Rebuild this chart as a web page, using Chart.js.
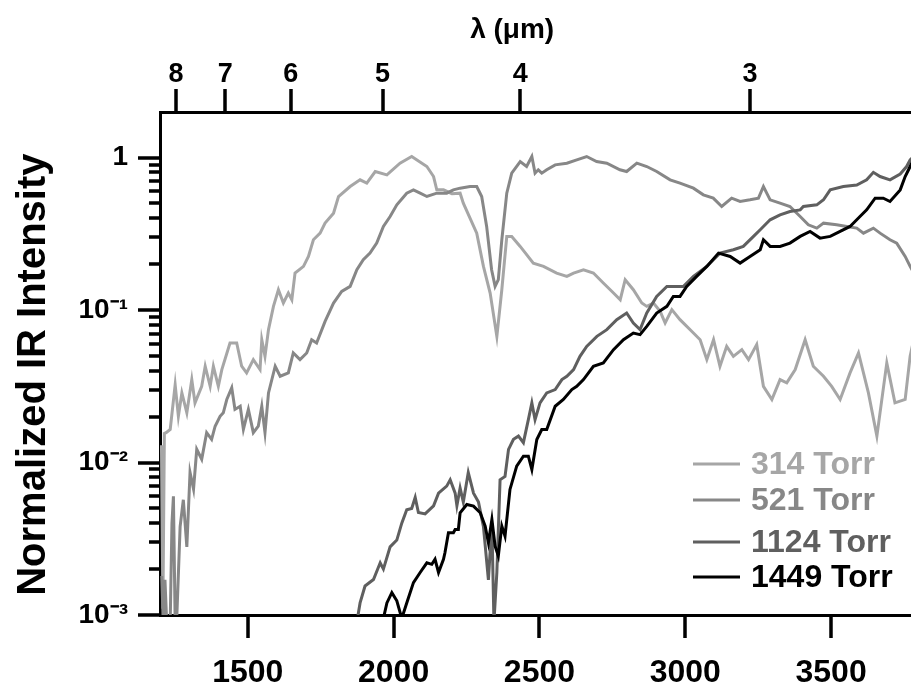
<!DOCTYPE html>
<html><head><meta charset="utf-8">
<script src="https://cdn.jsdelivr.net/npm/chart.js@4.4.1/dist/chart.umd.min.js"></script>
<style>html,body{margin:0;padding:0;background:#fff;overflow:hidden}#wrap{width:911px;height:688px;position:relative}</style>
</head><body><div id="wrap"><canvas id="c" width="911" height="688"></canvas></div>
<script>
// ---- data (wavenumber in cm^-1, normalized intensity) ----
const seriesLabels = ['314 Torr', '521 Torr', '1124 Torr', '1449 Torr'];
const seriesColors = ['#a6a6a6', '#878787', '#5f5f5f', '#000000'];

const wn314 = [1204,1209,1214,1220,1234,1251,1262,1274,1291,1308,1319,1342,1354,1371,1382,1399,1411,1439,1462,1479,1496,1519,1542,1548,1559,1571,1588,1605,1622,1639,1651,1662,1691,1708,1725,1748,1765,1794,1811,1851,1885,1908,1937,1977,2022,2062,2114,2137,2148,2171,2200,2228,2239,2285,2308,2331,2354,2371,2388,2405,2434,2479,2514,2559,2594,2617,2651,2685,2719,2754,2777,2794,2822,2851,2868,2891,2914,2931,2954,2982,3028,3051,3074,3097,3119,3142,3165,3194,3217,3245,3268,3297,3325,3348,3377,3411,3439,3474,3502,3531,3565,3594,3628,3657,3691,3719,3754,3771,3780];
const int314 = [0.013,0.0011,0.0155,0.0157,0.0165,0.0324,0.0201,0.0286,0.0212,0.035,0.0246,0.0316,0.0428,0.0316,0.0428,0.0316,0.0407,0.0608,0.0608,0.0428,0.0387,0.0473,0.0407,0.0639,0.0497,0.0744,0.1057,0.1359,0.1112,0.1293,0.1169,0.1748,0.1933,0.2247,0.289,0.3195,0.3715,0.432,0.5556,0.6458,0.7143,0.6795,0.81,0.77,0.9185,1.016,0.8734,0.751,0.6141,0.6141,0.58,0.584,0.5025,0.3195,0.1933,0.1293,0.0672,0.1359,0.304,0.304,0.2614,0.2032,0.1933,0.1748,0.1662,0.1748,0.1838,0.1748,0.1503,0.1293,0.1169,0.1581,0.1359,0.1112,0.1057,0.1112,0.098,0.0822,0.1006,0.0865,0.0707,0.0639,0.0473,0.0639,0.0428,0.0578,0.0497,0.055,0.0473,0.0593,0.0316,0.0259,0.035,0.0333,0.0407,0.0639,0.0428,0.0368,0.0316,0.0259,0.0387,0.0523,0.0286,0.0149,0.045,0.0246,0.0259,0.0497,0.06];

const wn521 = [1205,1210,1216,1222,1234,1240,1245,1251,1256,1268,1279,1291,1302,1314,1325,1342,1359,1376,1388,1405,1416,1428,1445,1456,1474,1485,1502,1519,1536,1548,1559,1571,1594,1611,1639,1656,1679,1702,1719,1736,1765,1794,1822,1851,1874,1896,1919,1942,1965,1988,2011,2045,2068,2091,2114,2148,2182,2205,2228,2262,2285,2302,2319,2336,2348,2359,2371,2388,2405,2434,2456,2474,2485,2496,2508,2525,2554,2594,2628,2662,2696,2731,2776,2799,2834,2868,2902,2948,2982,3028,3062,3096,3125,3159,3188,3222,3251,3268,3291,3325,3359,3394,3422,3451,3474,3519,3554,3588,3611,3645,3668,3702,3725,3754,3771,3780];
const int521 = [0.0018,0.0009,0.0017,0.0009,0.0009,0.004,0.006,0.0009,0.0009,0.0038,0.0057,0.0028,0.0086,0.0067,0.0122,0.0105,0.0157,0.0142,0.0173,0.0201,0.0212,0.0259,0.0309,0.0223,0.0234,0.0165,0.0223,0.0157,0.0173,0.0234,0.0157,0.0286,0.0428,0.0368,0.0387,0.0523,0.0473,0.0523,0.0639,0.0608,0.0843,0.1112,0.1326,0.1429,0.1838,0.2137,0.2363,0.2748,0.3534,0.4109,0.4898,0.584,0.614,0.584,0.5556,0.584,0.584,0.614,0.63,0.6458,0.6458,0.5556,0.3534,0.1838,0.1429,0.1581,0.289,0.584,0.79,0.942,0.8734,1.016,0.79,0.831,0.79,0.831,0.896,0.9185,0.966,1.016,0.942,0.9185,0.831,0.81,0.9185,0.8734,0.81,0.7143,0.6795,0.63,0.5697,0.5417,0.4777,0.5417,0.5152,0.5283,0.5417,0.6458,0.5283,0.5025,0.4777,0.4109,0.3623,0.3445,0.3715,0.3623,0.3534,0.3445,0.3195,0.3445,0.3195,0.289,0.2748,0.2247,0.1933,0.18];

const wn1124 = [1874,1885,1902,1931,1954,1965,1988,2011,2028,2045,2062,2074,2085,2108,2137,2154,2182,2194,2211,2217,2228,2239,2256,2274,2291,2308,2325,2337,2344,2354,2365,2382,2394,2411,2428,2445,2462,2474,2485,2502,2525,2554,2577,2594,2617,2639,2662,2697,2731,2765,2799,2822,2845,2868,2902,2937,2948,2994,3028,3074,3119,3165,3199,3234,3257,3291,3325,3359,3394,3405,3451,3474,3497,3542,3588,3622,3645,3668,3702,3737,3759,3771,3780];
const int1124 = [0.0009,0.0012,0.00155,0.00171,0.0022,0.002,0.0028,0.0031,0.004,0.0049,0.005,0.0059,0.0047,0.0046,0.0052,0.0063,0.007,0.0077,0.0063,0.0052,0.0068,0.0055,0.0086,0.0063,0.0055,0.0038,0.0017,0.004,0.0009,0.0019,0.0077,0.0081,0.0122,0.0142,0.0149,0.0135,0.0191,0.0246,0.0191,0.0246,0.0286,0.0301,0.035,0.0368,0.0407,0.0497,0.0578,0.0672,0.0744,0.0865,0.0956,0.0822,0.0744,0.0956,0.1229,0.1429,0.1429,0.1429,0.1662,0.1933,0.2363,0.2485,0.2614,0.304,0.336,0.3908,0.4214,0.4431,0.454,0.4777,0.4898,0.5283,0.614,0.6458,0.66,0.7143,0.80,0.751,0.714,0.78,0.8734,0.966,1.0];

const wn1449 = [1965,1977,1994,2011,2028,2045,2068,2091,2114,2131,2142,2154,2171,2176,2188,2205,2211,2222,2228,2251,2274,2297,2314,2325,2337,2348,2359,2371,2382,2399,2422,2445,2462,2474,2491,2508,2525,2554,2582,2611,2628,2651,2685,2719,2754,2788,2822,2845,2868,2902,2937,2959,2982,3005,3039,3074,3114,3154,3188,3222,3257,3268,3291,3325,3359,3394,3428,3462,3497,3531,3565,3599,3622,3651,3679,3702,3737,3754,3771,3780];
const int1449 = [0.00095,0.0012,0.0014,0.00124,0.00095,0.0012,0.00163,0.0019,0.0022,0.00215,0.00232,0.0019,0.00232,0.00256,0.00346,0.00346,0.00364,0.00364,0.00468,0.00531,0.00518,0.00468,0.00383,0.00298,0.00423,0.00283,0.00244,0.00383,0.00329,0.00666,0.00947,0.011,0.011,0.009,0.01415,0.01646,0.01646,0.0234,0.0259,0.0301,0.0316,0.035,0.0428,0.045,0.055,0.0639,0.0707,0.069,0.0782,0.0956,0.1057,0.1229,0.1229,0.1429,0.1662,0.1933,0.2363,0.2247,0.2032,0.2247,0.2485,0.289,0.2614,0.2614,0.2748,0.304,0.3277,0.2963,0.304,0.3277,0.3534,0.4109,0.4544,0.5417,0.5417,0.5152,0.614,0.751,0.8734,0.95];

// ---- tick labels ----
const xTickValues = [1500, 2000, 2500, 3000, 3500];
const lambdaTicks = [8, 7, 6, 5, 4, 3];          // wavelength in micrometres
const yMajorTicks = [0.001, 0.01, 0.1, 1];
const yTickLabels = ['10\u207B\u00B3', '10\u207B\u00B2', '10\u207B\u00B9', '1'];

const FONT = "'Liberation Sans', Arial, Helvetica, sans-serif";

function pts(xs, ys) { return xs.map((x, i) => ({x: x, y: ys[i]})); }

const allYTicks = [];
yMajorTicks.forEach((v, k) => {
  allYTicks.push({value: v, major: true});
  if (k < yMajorTicks.length - 1) for (let m = 2; m <= 9; m++) allYTicks.push({value: +(m * v).toPrecision(3), major: false});
});

function drawTickMarks(chart) {
  const c = chart.ctx, a = chart.chartArea;
  const sx = chart.scales.x, st = chart.scales.xTop, sy = chart.scales.y;
  c.save();
  c.globalAlpha = 1;
  c.globalCompositeOperation = 'source-over';
  c.fillStyle = '#000000';
  xTickValues.forEach(v => { const p = sx.getPixelForValue(v); c.fillRect(Math.round(p) - 1.5, a.bottom + 1, 3, 22); });
  lambdaTicks.forEach(l => { const p = st.getPixelForValue(10000 / l); c.fillRect(Math.round(p) - 1.5, a.top - 23, 3, 22); });
  allYTicks.forEach(t => {
    const p = sy.getPixelForValue(t.value); const len = t.major ? 22 : 11;
    c.fillRect(a.left - len, Math.round(p) - 1.5, len, 3);
  });
  c.restore();
}

// one plugin: white background, tick marks (placed via the scales' pixel mapping), legend
const decorPlugin = {
  id: 'decor',
  beforeDraw(chart) {
    const c = chart.ctx; c.save(); c.fillStyle = '#ffffff';
    c.fillRect(0, 0, chart.width, chart.height); c.restore();
  },
  afterDatasetsDraw(chart) { drawTickMarks(chart); },
  afterDraw(chart) {
    drawTickMarks(chart);
    const c = chart.ctx;
    const rows = [464, 500, 542, 577];
    c.save();
    c.font = 'bold 32px ' + FONT;
    c.textBaseline = 'middle'; c.textAlign = 'left';
    chart.data.datasets.forEach((ds, i) => {
      const y = rows[i];
      c.fillStyle = ds.borderColor;
      c.fillRect(693, y - 1.5, 47, 3);
      c.fillText(ds.label, 751, y + 1);
    });
    c.restore();
  }
};

const wns = [wn314, wn521, wn1124, wn1449];
const ints = [int314, int521, int1124, int1449];

new Chart(document.getElementById('c'), {
  type: 'line',
  data: {
    datasets: seriesLabels.map((lab, i) => ({
      label: lab,
      data: pts(wns[i], ints[i]),
      borderColor: seriesColors[i],
      backgroundColor: seriesColors[i],
      borderWidth: 3,
      pointRadius: 0,
      tension: 0,
      fill: false,
      order: 3 - i
    }))
  },
  options: {
    responsive: false, animation: false, devicePixelRatio: 1, layout: {padding: 0},
    plugins: {legend: {display: false}, tooltip: {enabled: false}},
    scales: {
      x: {type: 'linear', position: 'bottom', min: 1199, max: 3774,
        afterBuildTicks: s => { s.ticks = xTickValues.map(v => ({value: v})); },
        afterFit: s => { s.height = 73; },
        grid: {display: false, drawTicks: false}, border: {display: true, color: '#000', width: 3},
        ticks: {autoSkip: false, maxRotation: 0, padding: 39, color: '#000', font: {family: FONT, size: 32, weight: 'bold'}, callback: v => String(v)}},
      xTop: {type: 'linear', position: 'top', min: 1192, max: 3918,
        afterBuildTicks: s => { s.ticks = lambdaTicks.map(l => ({value: 10000 / l})); },
        afterFit: s => { s.height = 112; },
        grid: {display: false, drawTicks: false}, border: {display: true, color: '#000', width: 3},
        ticks: {autoSkip: false, maxRotation: 0, padding: 21, color: '#000', font: {family: FONT, size: 27, weight: 'bold'}, callback: (v, i) => String(lambdaTicks[i])},
        title: {display: true, text: '\u03BB (\u03BCm)\u00A0\u00A0\u00A0\u00A0\u00A0\u00A0', color: '#000', font: {family: FONT, size: 28, weight: 'bold'}, padding: {top: 13, bottom: 0}}},
      y: {type: 'logarithmic', position: 'left', min: 0.001, max: 1.99,
        afterBuildTicks: s => { s.ticks = allYTicks.map(t => ({value: t.value, major: t.major})); },
        afterFit: s => { s.width = 160; },
        grid: {display: false, drawTicks: false}, border: {display: true, color: '#000', width: 3},
        ticks: {autoSkip: false, padding: 32, color: '#000', font: {family: FONT, size: 28, weight: 'bold'},
          callback: (v) => { const k = yMajorTicks.indexOf(v); return k >= 0 ? yTickLabels[k] : ''; }},
        title: {display: true, text: 'Normalized IR Intensity\u00A0\u00A0', color: '#000', font: {family: FONT, size: 40, weight: 'bold'}, padding: {top: 10, bottom: 0}}}
    }
  },
  plugins: [decorPlugin]
});
</script>
</body></html>
